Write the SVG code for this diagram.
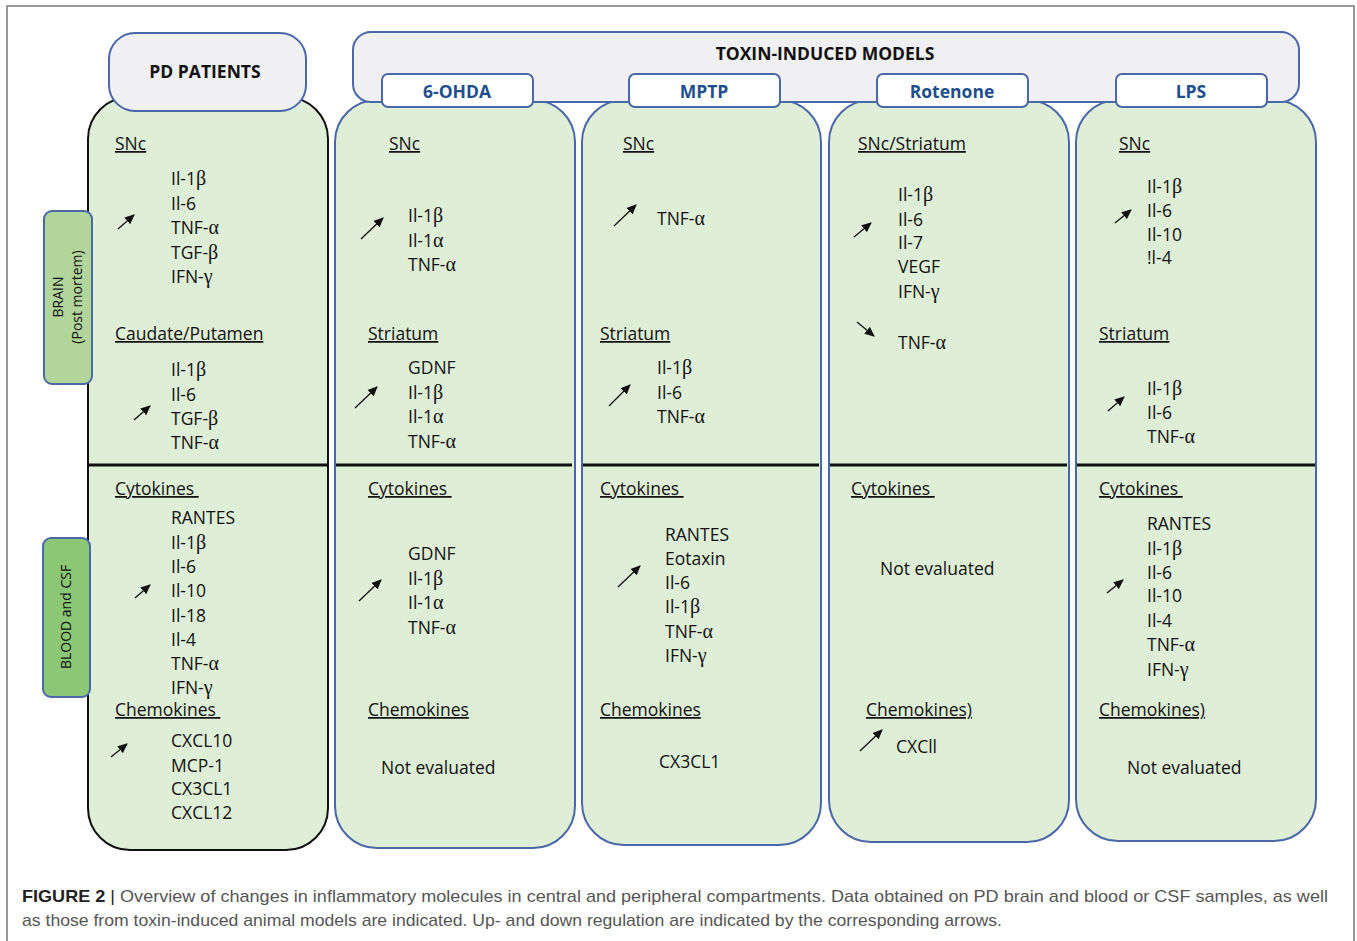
<svg xmlns="http://www.w3.org/2000/svg" width="1357" height="941" viewBox="0 0 1357 941">
<defs>
<marker id="ah" viewBox="0 0 10 10" refX="9" refY="5" markerWidth="10" markerHeight="10" markerUnits="userSpaceOnUse" orient="auto">
<path d="M0,0.5 L10,5 L0,9.5 z" fill="#111"/>
</marker>
<style>
.col{fill:#dfeed6;stroke:#4a67a8;stroke-width:2}
.colpd{fill:#dfeed6;stroke:#111;stroke-width:2}
.hdr{fill:#f0f0f3;stroke:#4a67a8;stroke-width:2}
.tab{fill:#fff;stroke:#4a67a8;stroke-width:2}
.div{stroke:#111;stroke-width:3}
text{font-family:"Open Sans","Liberation Sans",sans-serif;font-size:17.5px;fill:#111}
.h{font-weight:bold;text-anchor:middle}
.t{font-weight:bold;text-anchor:middle;fill:#1f4e8c}
.u{text-decoration:underline}
.g{font-family:"Liberation Serif",serif;font-size:20px}
.arr{stroke:#111;stroke-width:1.3;fill:none;marker-end:url(#ah)}
.side{font-size:14px;text-anchor:middle}
.cap{font-family:"Liberation Sans",Arial,sans-serif;font-size:17px;fill:#555}
</style>
</defs>
<rect x="7" y="6" width="1347" height="940" fill="#fff" stroke="#777" stroke-width="1.5"/>

<g id="pd-column">
<rect class="colpd" x="88" y="97" width="240" height="753" rx="42"/>
<line class="div" x1="89" y1="465" x2="327" y2="465"/>
<text class="u" x="115" y="150">SNc</text>
<text x="171" y="185">Il-1<tspan class="g">β</tspan></text>
<text x="171" y="210">Il-6</text>
<text x="171" y="234">TNF-<tspan class="g">α</tspan></text>
<text x="171" y="259">TGF-<tspan class="g">β</tspan></text>
<text x="171" y="283">IFN-<tspan class="g">γ</tspan></text>
<text class="u" x="115" y="340">Caudate/Putamen</text>
<text x="171" y="376">Il-1<tspan class="g">β</tspan></text>
<text x="171" y="401">Il-6</text>
<text x="171" y="425">TGF-<tspan class="g">β</tspan></text>
<text x="171" y="449">TNF-<tspan class="g">α</tspan></text>
<text class="u" x="115" y="495" xml:space="preserve">Cytokines&#160;</text>
<text x="171" y="524">RANTES</text>
<text x="171" y="549">Il-1<tspan class="g">β</tspan></text>
<text x="171" y="573">Il-6</text>
<text x="171" y="597">Il-10</text>
<text x="171" y="622">Il-18</text>
<text x="171" y="646">Il-4</text>
<text x="171" y="670">TNF-<tspan class="g">α</tspan></text>
<text x="171" y="694">IFN-<tspan class="g">γ</tspan></text>
<text class="u" x="115" y="716" xml:space="preserve">Chemokines&#160;</text>
<text x="171" y="747">CXCL10</text>
<text x="171" y="772">MCP-1</text>
<text x="171" y="795">CX3CL1</text>
<text x="171" y="819">CXCL12</text>
</g>

<g id="ohda-column">
<rect class="col" x="335" y="100" width="240" height="748" rx="42"/>
<line class="div" x1="336" y1="465" x2="572" y2="465"/>
<text class="u" x="389" y="150">SNc</text>
<text x="408" y="222">Il-1<tspan class="g">β</tspan></text>
<text x="408" y="247">Il-1<tspan class="g">α</tspan></text>
<text x="408" y="271">TNF-<tspan class="g">α</tspan></text>
<text class="u" x="368" y="340">Striatum</text>
<text x="408" y="374">GDNF</text>
<text x="408" y="399">Il-1<tspan class="g">β</tspan></text>
<text x="408" y="423">Il-1<tspan class="g">α</tspan></text>
<text x="408" y="448">TNF-<tspan class="g">α</tspan></text>
<text class="u" x="368" y="495" xml:space="preserve">Cytokines&#160;</text>
<text x="408" y="560">GDNF</text>
<text x="408" y="585">Il-1<tspan class="g">β</tspan></text>
<text x="408" y="609">Il-1<tspan class="g">α</tspan></text>
<text x="408" y="634">TNF-<tspan class="g">α</tspan></text>
<text class="u" x="368" y="716">Chemokines</text>
<text x="381" y="774">Not evaluated</text>
</g>

<g id="mptp-column">
<rect class="col" x="582" y="100" width="239" height="745" rx="42"/>
<line class="div" x1="583" y1="465" x2="819" y2="465"/>
<text class="u" x="623" y="150">SNc</text>
<text x="657" y="225">TNF-<tspan class="g">α</tspan></text>
<text class="u" x="600" y="340">Striatum</text>
<text x="657" y="374">Il-1<tspan class="g">β</tspan></text>
<text x="657" y="399">Il-6</text>
<text x="657" y="423">TNF-<tspan class="g">α</tspan></text>
<text class="u" x="600" y="495" xml:space="preserve">Cytokines&#160;</text>
<text x="665" y="541">RANTES</text>
<text x="665" y="565">Eotaxin</text>
<text x="665" y="589">Il-6</text>
<text x="665" y="613">Il-1<tspan class="g">β</tspan></text>
<text x="665" y="638">TNF-<tspan class="g">α</tspan></text>
<text x="665" y="662">IFN-<tspan class="g">γ</tspan></text>
<text class="u" x="600" y="716">Chemokines</text>
<text x="659" y="768">CX3CL1</text>
</g>

<g id="rotenone-column">
<rect class="col" x="829" y="100" width="240" height="742" rx="42"/>
<line class="div" x1="830" y1="465" x2="1067" y2="465"/>
<text class="u" x="858" y="150">SNc/Striatum</text>
<text x="898" y="201">Il-1<tspan class="g">β</tspan></text>
<text x="898" y="226">Il-6</text>
<text x="898" y="249">Il-7</text>
<text x="898" y="273">VEGF</text>
<text x="898" y="298">IFN-<tspan class="g">γ</tspan></text>
<text x="898" y="349">TNF-<tspan class="g">α</tspan></text>
<text class="u" x="851" y="495" xml:space="preserve">Cytokines&#160;</text>
<text x="880" y="575">Not evaluated</text>
<text class="u" x="866" y="716">Chemokines)</text>
<text x="896" y="753">CXCll</text>
</g>

<g id="lps-column">
<rect class="col" x="1076" y="100" width="240" height="741" rx="42"/>
<line class="div" x1="1077" y1="465" x2="1315" y2="465"/>
<text class="u" x="1119" y="150">SNc</text>
<text x="1147" y="193">Il-1<tspan class="g">β</tspan></text>
<text x="1147" y="217">Il-6</text>
<text x="1147" y="241">Il-10</text>
<text x="1147" y="264">!l-4</text>
<text class="u" x="1099" y="340">Striatum</text>
<text x="1147" y="395">Il-1<tspan class="g">β</tspan></text>
<text x="1147" y="419">Il-6</text>
<text x="1147" y="443">TNF-<tspan class="g">α</tspan></text>
<text class="u" x="1099" y="495" xml:space="preserve">Cytokines&#160;</text>
<text x="1147" y="530">RANTES</text>
<text x="1147" y="555">Il-1<tspan class="g">β</tspan></text>
<text x="1147" y="579">Il-6</text>
<text x="1147" y="602">Il-10</text>
<text x="1147" y="627">Il-4</text>
<text x="1147" y="651">TNF-<tspan class="g">α</tspan></text>
<text x="1147" y="676">IFN-<tspan class="g">γ</tspan></text>
<text class="u" x="1099" y="716">Chemokines)</text>
<text x="1127" y="774">Not evaluated</text>
</g>

<g id="pd-header">
<rect class="hdr" x="109" y="33" width="197" height="78" rx="26"/>
<text class="h" x="205" y="78">PD PATIENTS</text>
</g>

<g id="toxin-header">
<rect class="hdr" x="353" y="32" width="946" height="70" rx="18"/>
<text class="h" x="825" y="60">TOXIN-INDUCED MODELS</text>
</g>

<g id="tab-6ohda">
<rect class="tab" x="382" y="74" width="151" height="33" rx="6"/>
<text class="t" x="457" y="98">6-OHDA</text>
</g>
<g id="tab-mptp">
<rect class="tab" x="629" y="74" width="151" height="33" rx="6"/>
<text class="t" x="704" y="98">MPTP</text>
</g>
<g id="tab-rotenone">
<rect class="tab" x="877" y="74" width="151" height="33" rx="6"/>
<text class="t" x="952" y="98">Rotenone</text>
</g>
<g id="tab-lps">
<rect class="tab" x="1116" y="74" width="151" height="33" rx="6"/>
<text class="t" x="1191" y="98">LPS</text>
</g>

<g id="side-brain">
<rect x="44" y="211" width="48" height="173" rx="8" fill="#b1d59b" stroke="#4a67a8" stroke-width="2"/>
<text class="side" transform="translate(63,297) rotate(-90)">BRAIN</text>
<text class="side" transform="translate(82,297) rotate(-90)">(Post mortem)</text>
</g>
<g id="side-blood">
<rect x="43" y="538" width="47" height="159" rx="8" fill="#8cc776" stroke="#4a67a8" stroke-width="2"/>
<text class="side" transform="translate(71,617) rotate(-90)">BLOOD and CSF</text>
</g>

<g id="connectors">
<line class="arr" x1="118" y1="229" x2="134" y2="215"/>
<line class="arr" x1="134" y1="420" x2="150" y2="406"/>
<line class="arr" x1="135" y1="598" x2="150" y2="585"/>
<line class="arr" x1="111" y1="757" x2="127" y2="744"/>
<line class="arr" x1="361" y1="239" x2="383" y2="218"/>
<line class="arr" x1="355" y1="408" x2="377" y2="387"/>
<line class="arr" x1="359" y1="601" x2="381" y2="580"/>
<line class="arr" x1="614" y1="226" x2="636" y2="205"/>
<line class="arr" x1="609" y1="406" x2="630" y2="385"/>
<line class="arr" x1="618" y1="587" x2="640" y2="566"/>
<line class="arr" x1="854" y1="237" x2="871" y2="223"/>
<line class="arr" x1="857" y1="322" x2="874" y2="336"/>
<line class="arr" x1="860" y1="751" x2="882" y2="730"/>
<line class="arr" x1="1115" y1="223" x2="1131" y2="210"/>
<line class="arr" x1="1108" y1="411" x2="1124" y2="397"/>
<line class="arr" x1="1107" y1="593" x2="1123" y2="580"/>
</g>

<g id="caption">
<text class="cap" x="22" y="902" textLength="1306" lengthAdjust="spacingAndGlyphs"><tspan font-weight="bold" fill="#222">FIGURE 2</tspan><tspan fill="#222"> | </tspan>Overview of changes in inflammatory molecules in central and peripheral compartments. Data obtained on PD brain and blood or CSF samples, as well</text>
<text class="cap" x="22" y="926" textLength="980" lengthAdjust="spacingAndGlyphs">as those from toxin-induced animal models are indicated. Up- and down regulation are indicated by the corresponding arrows.</text>
</g>
</svg>
